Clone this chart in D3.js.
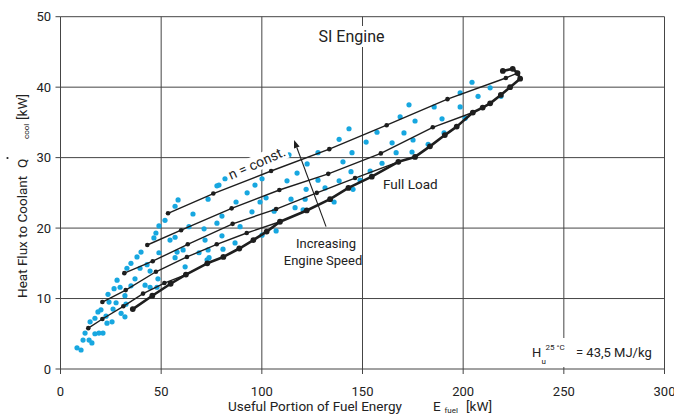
<!DOCTYPE html>
<html>
<head>
<meta charset="utf-8">
<script src="https://cdn.jsdelivr.net/npm/d3@7/dist/d3.min.js"></script>
<style>
  html, body { margin: 0; padding: 0; background: #fff; }
  svg { display: block; font-family: Roboto, "Open Sans", sans-serif; }
</style>
</head>
<body>
<svg id="chart" width="674" height="414"></svg>
<script>
// Axis ticks
const xTicks = [0, 50, 100, 150, 200, 250, 300];
const yTicks = [0, 10, 20, 30, 40, 50];

// Measured operating points: useful fuel energy (kW) vs heat flux to coolant (kW)
const measuredFuel = [
  8.2, 10.2, 11.2, 12.2, 14.2, 14.7, 15.6, 17.1, 17.1, 18.6, 20.1, 19.1, 21.1, 22.6, 23.1,
  23.6, 24.1, 26.1, 26.6, 27.6, 28.1, 25.6, 30.1, 32.0, 32.5, 32.0, 29.6, 35.0, 35.0, 33.0,
  37.0, 38.0, 40.0, 39.5, 42.0, 43.0, 44.5, 44.5, 46.4, 47.4, 47.9, 48.4, 48.9, 48.9, 51.9,
  54.4, 56.9, 57.9, 61.9, 63.8, 68.8, 72.8, 65.8, 56.9, 58.4, 77.7, 77.7,
  71.3, 71.8, 73.3, 73.8, 78.7, 80.2, 80.2, 80.7, 81.7, 86.7, 87.2, 89.2, 92.7, 95.1, 96.6,
  99.1, 100.1, 100.1, 102.1, 106.1, 107.1, 112.5, 113.5, 114.5, 116.5, 117.5, 120.5, 121.5,
  122.0, 122.5, 60.9, 56.9, 73.3,
  127.9, 127.9, 131.4, 138.4, 138.4, 140.3, 143.3, 144.3, 144.8, 145.3, 148.8, 151.8, 153.8,
  157.2, 159.7, 164.7, 166.7, 168.7, 170.6, 173.1, 174.6, 175.1, 176.1, 135.9,
  182.6, 185.6, 189.5, 190.5, 198.5, 198.5, 201.0, 204.4, 207.4, 213.4, 218.8
];
const measuredCool = [
  3.0, 2.7, 4.1, 5.1, 4.1, 6.7, 3.7, 5.0, 7.2, 8.1, 8.4, 5.1, 5.1, 7.5, 6.5,
  10.6, 9.5, 8.5, 11.4, 9.4, 12.6, 6.7, 7.9, 7.4, 9.2, 10.4, 11.6, 11.8, 15.0, 14.3,
  12.8, 15.9, 16.6, 14.3, 11.9, 14.8, 13.9, 11.6, 18.6, 19.3, 11.6, 12.8, 20.3, 16.5, 21.1,
  18.3, 18.7, 16.6, 14.5, 20.2, 16.5, 15.5, 22.0, 23.1, 24.0, 26.0, 20.7,
  19.9, 18.3, 24.1, 15.8, 26.1, 21.7, 18.9, 17.0, 27.0, 17.9, 23.7, 20.2, 25.0, 22.3, 26.1,
  23.7, 27.0, 19.0, 24.3, 22.4, 19.6, 26.7, 30.4, 24.1, 22.9, 27.8, 22.6, 24.1,
  25.5, 29.1, 16.9, 15.8, 16.9,
  30.7, 26.8, 25.7, 26.7, 32.6, 29.4, 34.1, 28.0, 30.7, 25.5, 26.8, 32.2, 28.1,
  33.6, 29.2, 32.1, 30.7, 35.8, 33.5, 37.5, 30.8, 32.5, 35.2, 23.7,
  31.9, 37.2, 35.5, 33.5, 39.2, 37.2, 35.6, 40.7, 38.7, 39.9, 38.7
];

// Constant engine speed lines, lowest speed first
const n1Fuel = [13.8, 20.8, 31.2, 41.0, 51.6, 62.3];
const n1Cool = [5.8, 7.1, 8.9, 10.7, 12.2, 13.4];
const n2Fuel = [20.8, 32.4, 47.4, 62.8, 77.6, 92.5, 109.0];
const n2Cool = [9.5, 11.2, 13.8, 15.9, 17.7, 19.3, 20.9];
const n3Fuel = [31.7, 45.8, 63.2, 85.5, 107.1, 127.3, 146.3, 167.8];
const n3Cool = [13.6, 15.3, 17.7, 20.6, 22.7, 25.0, 27.1, 29.4];
const n4Fuel = [43.1, 59.9, 85.0, 108.7, 133.0, 159.1, 184.9, 204.8];
const n4Cool = [17.6, 19.7, 22.8, 25.4, 27.7, 30.6, 34.3, 36.4];
const n5Fuel = [53.4, 75.9, 104.6, 133.5, 162.0, 192.2, 221.2, 227.0];
const n5Cool = [22.1, 24.9, 28.1, 31.2, 34.6, 38.3, 41.3, 42.0];

// Full load curve
const fullLoadFuel = [35.9, 45.6, 54.7, 62.3, 72.9, 80.9, 88.8, 95.8, 102.4, 109.0, 122.3, 133.9,
  143.0, 154.6, 167.8, 176.1, 183.5, 190.9, 196.8, 204.8, 209.7, 213.4, 218.7, 223.3, 228.3,
  227.0, 224.6, 219.7];
const fullLoadCool = [8.5, 10.4, 12.1, 13.4, 15.0, 15.9, 17.1, 18.3, 19.5, 20.9, 22.5, 24.1,
  25.7, 27.3, 29.4, 30.1, 31.6, 33.2, 34.4, 36.4, 37.1, 37.7, 38.9, 40.0, 41.2,
  42.0, 42.6, 42.3];

const svg = d3.select("#chart");

const x = d3.scaleLinear().domain([0, 300]).range([60.5, 664.5]);
const y = d3.scaleLinear().domain([0, 50]).range([369, 16.7]);

const ink = "#1e1e1e";
const gridInk = "#454545";
const blue = "#17a7e0";
const textInk = "#222";

// ---- grid and frame ----
const grid = svg.append("g");
grid.selectAll("line.h").data(yTicks).join("line")
  .attr("x1", x(0)).attr("x2", x(300))
  .attr("y1", d => y(d)).attr("y2", d => y(d))
  .attr("stroke", gridInk).attr("stroke-width", 1);
grid.selectAll("line.v").data(xTicks).join("line")
  .attr("x1", d => x(d)).attr("x2", d => x(d))
  .attr("y1", y(50)).attr("y2", y(0) + 5)
  .attr("stroke", gridInk).attr("stroke-width", 1);
// y ticks on the left
grid.selectAll("line.yt").data(yTicks).join("line")
  .attr("x1", x(0) - 5).attr("x2", x(0))
  .attr("y1", d => y(d)).attr("y2", d => y(d))
  .attr("stroke", gridInk).attr("stroke-width", 1);

// tick labels
svg.append("g").selectAll("text").data(yTicks).join("text")
  .attr("x", 51).attr("y", d => y(d) + 4.5)
  .attr("text-anchor", "end").attr("font-size", 13).attr("fill", textInk)
  .text(d => d);
svg.append("g").selectAll("text").data(xTicks).join("text")
  .attr("x", d => x(d)).attr("y", 396)
  .attr("text-anchor", "middle").attr("font-size", 13).attr("fill", textInk)
  .text(d => d);

// white box behind a text so grid lines break around it
function knockout(sel, pad) {
  const b = sel.node().getBBox();
  const r = document.createElementNS("http://www.w3.org/2000/svg", "rect");
  sel.node().parentNode.insertBefore(r, sel.node());
  d3.select(r)
    .attr("x", b.x - pad).attr("y", b.y - pad + 2)
    .attr("width", b.width + 2 * pad).attr("height", b.height + 2 * pad - 4)
    .attr("fill", "#fff");
}

// ---- title ----
const title = svg.append("text")
  .attr("x", 351.5).attr("y", 42).attr("text-anchor", "middle")
  .attr("font-size", 16).attr("fill", textInk).text("SI Engine");
knockout(title, 3);

// ---- heating value note ----
const hu = svg.append("g");
hu.append("rect").attr("x", 529).attr("y", 338).attr("width", 127).attr("height", 29).attr("fill", "#fff");
hu.append("text").attr("x", 532).attr("y", 357).attr("font-size", 13).attr("fill", textInk).text("H");
hu.append("text").attr("x", 541.5).attr("y", 363.5).attr("font-size", 8).attr("fill", textInk).text("u");
hu.append("text").attr("x", 545.5).attr("y", 350).attr("font-size", 8).attr("fill", textInk).text("25 °C");
hu.append("text").attr("x", 576).attr("y", 357).attr("font-size", 13).attr("fill", textInk).text("= 43,5 MJ/kg");

// ---- "n = const." label (background first, text raised later) ----
const nLab = svg.append("g").attr("transform", "translate(231,180) rotate(-24)");
const nText = nLab.append("text").attr("x", 0).attr("y", 0)
  .attr("font-size", 14).attr("fill", textInk).text("n = const.");
knockout(nText, 2);

// ---- measured points ----
const pts = d3.range(measuredFuel.length);
svg.append("g").selectAll("circle").data(pts).join("circle")
  .attr("cx", i => x(measuredFuel[i])).attr("cy", i => y(measuredCool[i]))
  .attr("r", 2.6).attr("fill", blue);

// ---- constant-speed lines ----
const line = d3.line().x(d => x(d[0])).y(d => y(d[1]));
const speedSets = [[n1Fuel, n1Cool], [n2Fuel, n2Cool], [n3Fuel, n3Cool], [n4Fuel, n4Cool], [n5Fuel, n5Cool]];
speedSets.forEach(([fx, fy]) => {
  const data = fx.map((v, i) => [v, fy[i]]);
  const g = svg.append("g");
  g.append("path").attr("d", line(data)).attr("fill", "none")
    .attr("stroke", ink).attr("stroke-width", 1.4);
  g.selectAll("circle").data(data).join("circle")
    .attr("cx", d => x(d[0])).attr("cy", d => y(d[1])).attr("r", 2.3).attr("fill", ink);
});

// ---- full load curve ----
const fl = fullLoadFuel.map((v, i) => [v, fullLoadCool[i]]);
const gfl = svg.append("g");
gfl.append("path").attr("d", line(fl)).attr("fill", "none")
  .attr("stroke", ink).attr("stroke-width", 2.6).attr("stroke-linejoin", "round");
gfl.selectAll("circle").data(fl).join("circle")
  .attr("cx", d => x(d[0])).attr("cy", d => y(d[1])).attr("r", 2.9).attr("fill", ink);

// ---- annotations ----
nLab.raise();
svg.append("text").attr("x", 383).attr("y", 189).attr("font-size", 13.5).attr("fill", textInk).text("Full Load");

const arrowFrom = [131.9, 20.2], arrowTo = [116.0, 32.5];
const ax1 = x(arrowFrom[0]), ay1 = y(arrowFrom[1]), ax2 = x(arrowTo[0]), ay2 = y(arrowTo[1]);
const ang = Math.atan2(ay2 - ay1, ax2 - ax1);
const hl = 8, hw = 3;
const bx = ax2 - hl * Math.cos(ang), by = ay2 - hl * Math.sin(ang);
svg.append("line").attr("x1", ax1).attr("y1", ay1).attr("x2", bx).attr("y2", by)
  .attr("stroke", ink).attr("stroke-width", 1.1);
svg.append("path")
  .attr("d", `M${ax2},${ay2}L${bx + hw * Math.sin(ang)},${by - hw * Math.cos(ang)}L${bx - hw * Math.sin(ang)},${by + hw * Math.cos(ang)}Z`)
  .attr("fill", ink);
svg.append("text").attr("x", 326).attr("y", 248).attr("text-anchor", "middle")
  .attr("font-size", 13).attr("fill", textInk).text("Increasing");
svg.append("text").attr("x", 323).attr("y", 265).attr("text-anchor", "middle")
  .attr("font-size", 13).attr("fill", textInk).text("Engine Speed");

// ---- axis titles ----
svg.append("text").attr("x", 228).attr("y", 411).attr("font-size", 13.5).attr("fill", textInk)
  .text("Useful Portion of Fuel Energy");
svg.append("text").attr("x", 433).attr("y", 411).attr("font-size", 13.5).attr("fill", textInk).text("E");
svg.append("text").attr("x", 444.5).attr("y", 412.5).attr("font-size", 8).attr("fill", textInk).text("fuel");
svg.append("text").attr("x", 466).attr("y", 411).attr("font-size", 13.5).attr("fill", textInk).text("[kW]");

const yt = svg.append("g").attr("transform", "translate(0,369) rotate(-90)");
yt.append("text").attr("x", 71).attr("y", 26.5).attr("font-size", 13.5).attr("fill", textInk)
  .text("Heat Flux to Coolant");
yt.append("text").attr("x", 201).attr("y", 26.5).attr("font-size", 13.5).attr("fill", textInk).text("Q");
yt.append("circle").attr("cx", 211).attr("cy", 7.5).attr("r", 1.1).attr("fill", textInk);
yt.append("text").attr("x", 230).attr("y", 28.5).attr("font-size", 8).attr("fill", textInk).text("cool");
yt.append("text").attr("x", 249).attr("y", 26.5).attr("font-size", 13.5).attr("fill", textInk).text("[kW]");
</script>
</body>
</html>
